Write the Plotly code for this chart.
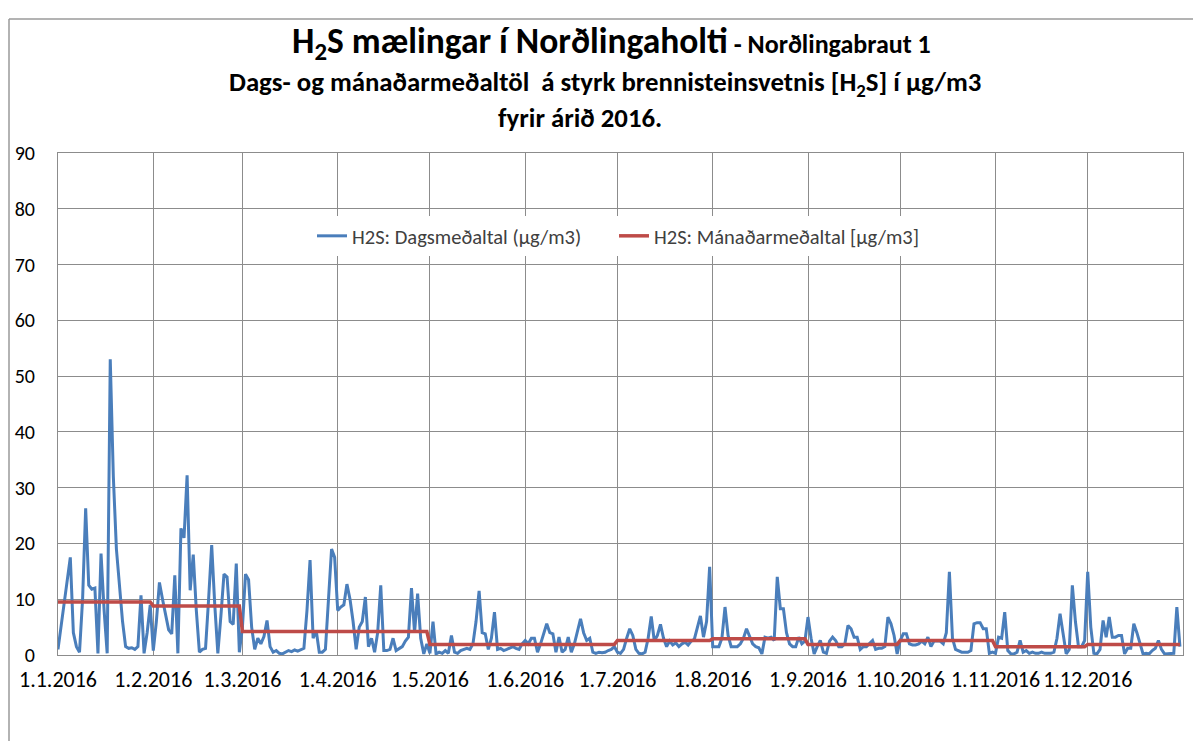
import pandas as pd
import plotly.graph_objects as go

# Daily averages (µg/m3)
jan = [1.0, 5, 9, 13, 17.5, 4, 1.5, 0.5, 10, 26.3, 12.5, 11.8, 12.0, 0.3, 18.2, 8, 0.3, 53, 32, 19,
       12, 6, 1.5, 1.2, 1.3, 1.0, 1.5, 10.7, 0.3, 4, 9]
feb = [0.8, 6, 13, 10, 7, 4.5, 3.8, 14.3, 0.3, 22.7, 21, 32.2, 11.6, 18, 8, 0.5, 1, 1.2, 10, 19.7,
       9, 0.3, 7, 14.5, 14, 6, 5.5, 16.4, 0.5]
mar = [5, 14.5, 13.5, 5, 1, 3, 2, 3.3, 6.2, 1.5, 0.5, 0.8, 0.3, 0.2, 0.5, 0.8, 0.6, 0.9, 0.7, 1.0,
       1.2, 8, 17, 3, 4.4, 0.5, 0.5, 1, 10, 19, 17.5]
apr = [8, 8.6, 9, 12.7, 10, 6, 1, 5, 6, 10.4, 1.5, 3, 0.5, 4, 12.5, 0.8, 0.8, 1, 3, 0.8,
       1.2, 1.5, 2.5, 3.2, 12, 4, 11, 3, 0.2, 2]
may = [0.3, 6, 0.2, 0.5, 0.3, 0.8, 0.3, 3.5, 0.5, 0.3, 0.8, 1.0, 1.2, 1.0, 2, 6, 11.5, 4, 3.8, 1,
       3, 7.7, 1, 1.2, 0.8, 1.0, 1.3, 1.5, 1.2, 1.0, 2.0]
jun = [2.6, 2, 3, 3, 0.5, 2, 4, 5.6, 4, 3.8, 0.5, 3.2, 0.5, 1, 3.2, 0.5, 2, 4.5, 6.5, 4,
       2.6, 3, 0.5, 0.3, 0.5, 0.4, 0.5, 0.8, 1, 1.5]
jul = [0.5, 0.3, 1, 3, 4.7, 3.5, 1, 0.3, 0.2, 0.5, 3, 6.9, 2.5, 3.5, 5.5, 3, 1.5, 2.5, 1.8, 2.2,
       1.5, 2, 2.3, 1.8, 2.5, 2.8, 5, 7, 3.2, 6, 15.8]
aug = [1.5, 1.5, 1.5, 3, 8.6, 3.5, 1.5, 1.5, 1.5, 2, 3, 4.7, 3.5, 2, 1.5, 1.3, 0.2, 3.2, 3, 3.2,
       2.6, 14, 8.3, 8.3, 4, 2, 1.5, 1.5, 3.2, 2, 2.5]
sep = [6.8, 3, 0.2, 1.5, 2.6, 0.5, 0.3, 2.5, 3.2, 2.6, 1.5, 1.5, 2, 5.3, 4.7, 3.2, 3.2, 1, 1.5, 1.5,
       2, 2.6, 1, 1.2, 1.2, 1.5, 6.8, 5.6, 3.5, 0.2]
octo = [2.6, 3.8, 3.8, 2, 1.8, 1.8, 2, 2.5, 2, 3.2, 1.5, 2.5, 2.5, 2.5, 2, 4, 14.9, 3, 1, 0.8,
        0.5, 0.5, 0.5, 0.8, 5.6, 5.8, 5.8, 4.7, 4.7, 0.3, 0.5]
nov = [0.3, 3.2, 3, 7.7, 0.8, 0.2, 0.2, 0.5, 2.6, 0.5, 0.8, 0.3, 0.5, 0.3, 0.3, 0.5, 0.3, 0.3, 0.3, 0.5,
       3, 7.4, 3.8, 0.2, 1, 12.5, 6, 1.5, 1.5, 2.6]
dec = [14.9, 5, 0.3, 0.2, 1, 6.2, 3.2, 6.8, 3.2, 3.2, 3.5, 3.5, 0.2, 1.2, 1.2, 5.6, 4, 2, 0.2, 0.3,
       0.2, 0.8, 1.2, 2.6, 1, 0.2, 0.2, 0.2, 0.3, 8.6, 1.5]

# Monthly averages (µg/m3)
monthly_mean = [9.5, 8.8, 4.2, 4.2, 1.9, 1.9, 2.6, 2.9, 1.9, 2.6, 1.5, 1.9]

tick_labels = ["1.1.2016", "1.2.2016", "1.3.2016", "1.4.2016", "1.5.2016", "1.6.2016",
               "1.7.2016", "1.8.2016", "1.9.2016", "1.10.2016", "1.11.2016", "1.12.2016"]

months = [jan, feb, mar, apr, may, jun, jul, aug, sep, octo, nov, dec]
daily = [v for m in months for v in m]
dates = pd.date_range("2016-01-01", periods=len(daily), freq="D")
monthly_daily = [monthly_mean[d.month - 1] for d in dates]
tick_vals = pd.date_range("2016-01-01", periods=12, freq="MS")

FONT = "Carlito, Lato, 'Open Sans', sans-serif"
NB = "\u00a0"

fig = go.Figure()
fig.add_trace(go.Scatter(x=dates, y=daily, mode="lines",
                         name="H2S: Dagsmeðaltal (µg/m3)" + NB * 6,
                         line=dict(color="#4a7ebb", width=3)))
fig.add_trace(go.Scatter(x=dates, y=monthly_daily, mode="lines",
                         name="H2S: Mánaðarmeðaltal [µg/m3]",
                         line=dict(color="#be4b48", width=3.5)))

# plot area in screen (reference) pixels: x 58..1183, y 153..655; page body has 8px margin
OFF = 8
PL, PR, PT, PB = 58, 1183, 153, 655
pw, ph = PR - PL, PB - PT
W, H = 1201 - 2 * OFF, 749 - 2 * OFF
L = PL - OFF
T = PT - OFF
R = W - L - pw
B = H - T - ph


def px(x):
    return (x - PL) / pw


def py(y):
    return (PB - y) / ph


fig.update_layout(
    width=W, height=H,
    margin=dict(l=L, r=R, t=T, b=B, autoexpand=False),
    paper_bgcolor="white", plot_bgcolor="white",
    font=dict(family=FONT, color="black", size=16),
    showlegend=True,
    legend=dict(orientation="h", x=px(618), y=py(236), xanchor="center", yanchor="middle",
                bgcolor="white", font=dict(size=20.5, color="#404040"),
                itemwidth=30, tracegroupgap=0),
    xaxis=dict(type="date", range=["2016-01-01", "2017-01-01"],
               tickvals=tick_vals, ticktext=tick_labels,
               showgrid=True, gridcolor="#8c8c8c", gridwidth=1,
               showline=True, linecolor="#8c8c8c", linewidth=1, mirror=True,
               ticks="", ticklabelstandoff=5, tickfont=dict(size=22, color="black"),
               zeroline=False),
    yaxis=dict(range=[0, 90], dtick=10, showgrid=True, gridcolor="#8c8c8c", gridwidth=1,
               showline=True, linecolor="#8c8c8c", linewidth=1, mirror=True,
               ticks="", ticklabelstandoff=18, tickfont=dict(size=20, color="black"),
               zeroline=False),
    annotations=[
        dict(text="<b>H<sub>2</sub>S mælingar í Norðlingaholti</b><span style='font-size:26px'><b> - Norðlingabraut 1</b></span>",
             x=px(611), y=py(43), xref="paper", yref="paper", showarrow=False,
             font=dict(size=35.5, color="black", family=FONT), xanchor="center", yanchor="middle"),
        dict(text="<b>Dags- og mánaðarmeðaltöl  á styrk brennisteinsvetnis [H<sub>2</sub>S] í µg/m3</b>",
             x=px(605), y=py(84), xref="paper", yref="paper", showarrow=False,
             font=dict(size=26.8, color="black", family=FONT), xanchor="center", yanchor="middle"),
        dict(text="<b>fyrir árið 2016.</b>",
             x=px(580), y=py(117), xref="paper", yref="paper", showarrow=False,
             font=dict(size=26.8, color="black", family=FONT), xanchor="center", yanchor="middle"),
    ],
    shapes=[
        dict(type="line", xref="paper", yref="paper", x0=px(9), x1=px(9), y0=py(19), y1=py(760),
             line=dict(color="#9a9a9a", width=1.5)),
        dict(type="line", xref="paper", yref="paper", x0=px(9), x1=px(1210), y0=py(19), y1=py(19),
             line=dict(color="#9a9a9a", width=1.5)),
    ],
)

fig.write_html("out.html")
